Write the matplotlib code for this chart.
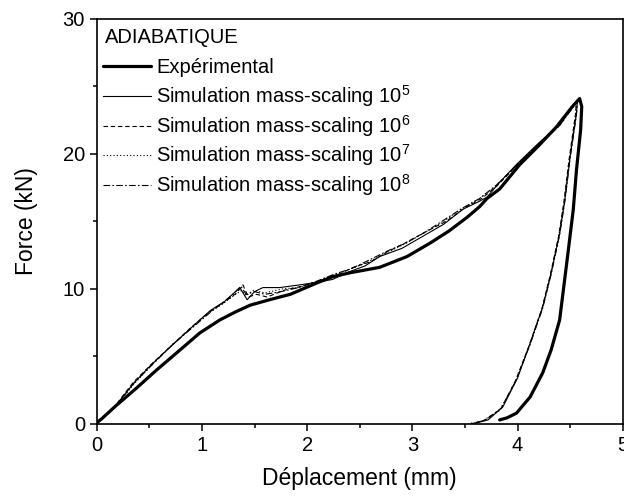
import matplotlib
matplotlib.use("Agg")
import matplotlib.pyplot as plt

plt.rcParams['font.family'] = ['Liberation Sans', 'DejaVu Sans']
plt.rcParams['mathtext.fontset'] = 'custom'
plt.rcParams['mathtext.rm'] = 'Liberation Sans'
plt.rcParams['mathtext.it'] = 'Liberation Sans'

# courbe experimentale (charge + decharge)
x_exp = [0.0, 0.05, 0.17, 0.37, 0.57, 0.78, 0.98, 1.17, 1.32, 1.46, 1.62, 1.74, 1.84, 1.93,
         2.08, 2.24, 2.41, 2.69, 2.95, 3.17, 3.35, 3.52, 3.64, 3.71, 3.83, 4.02, 4.20, 4.37,
         4.52, 4.59, 4.61, 4.60, 4.56, 4.53, 4.48, 4.40, 4.32, 4.24, 4.12, 3.99, 3.90, 3.83]
y_exp = [0.1, 0.4, 1.26, 2.6, 4.0, 5.4, 6.74, 7.7, 8.3, 8.8, 9.15, 9.4, 9.6, 9.9,
         10.4, 10.9, 11.2, 11.6, 12.4, 13.4, 14.3, 15.3, 16.1, 16.7, 17.4, 19.2, 20.6, 22.0,
         23.5, 24.1, 23.5, 21.8, 18.8, 15.9, 12.7, 7.7, 5.5, 3.8, 2.0, 0.8, 0.45, 0.3]

# simulations mass-scaling
x_ms5 = [0.0, 0.17, 0.35, 0.52, 0.70, 0.88, 1.08, 1.22, 1.36, 1.43, 1.50, 1.58, 1.74, 1.93,
         2.10, 2.24, 2.41, 2.55, 2.69, 2.90, 3.10, 3.30, 3.48, 3.64, 3.71, 3.83, 4.00, 4.20,
         4.40, 4.57, 4.56, 4.50, 4.45, 4.40, 4.32, 4.24, 4.12, 4.00, 3.86, 3.72, 3.60]
y_ms5 = [0.0, 1.26, 3.0, 4.4, 5.7, 7.0, 8.4, 9.1, 10.1, 9.2, 9.8, 10.1, 10.1, 10.3,
         10.5, 10.7, 11.3, 11.7, 12.4, 13.0, 13.9, 14.8, 15.9, 16.5, 16.8, 17.9, 19.3, 20.8,
         22.2, 24.0, 23.0, 19.8, 16.6, 14.1, 11.2, 8.7, 6.0, 3.4, 1.26, 0.3, 0.05]

x_ms6 = [0.0, 0.17, 0.35, 0.53, 0.71, 0.89, 1.07, 1.21, 1.33, 1.39, 1.44, 1.52, 1.62, 1.78,
         1.95, 2.12, 2.28, 2.44, 2.60, 2.75, 2.93, 3.12, 3.32, 3.50, 3.66, 3.80, 4.00, 4.20,
         4.40, 4.56, 4.55, 4.49, 4.44, 4.39, 4.31, 4.23, 4.11, 3.98, 3.84, 3.68, 3.55]
y_ms6 = [0.0, 1.3, 3.1, 4.5, 5.8, 7.1, 8.3, 9.0, 9.7, 10.3, 9.4, 9.6, 9.4, 9.9,
         10.2, 10.6, 11.0, 11.6, 12.0, 12.7, 13.4, 14.2, 15.0, 16.0, 16.7, 17.6, 19.2, 20.7,
         22.1, 23.9, 22.9, 19.6, 16.4, 13.9, 11.0, 8.5, 5.8, 3.2, 1.1, 0.25, 0.0]

x_ms7 = [0.0, 0.18, 0.36, 0.54, 0.72, 0.90, 1.06, 1.20, 1.32, 1.38, 1.42, 1.49, 1.60, 1.76,
         1.92, 2.08, 2.25, 2.42, 2.58, 2.74, 2.92, 3.10, 3.28, 3.46, 3.62, 3.78, 3.98, 4.18,
         4.38, 4.56, 4.55, 4.49, 4.44, 4.39, 4.31, 4.23, 4.11, 3.98, 3.83, 3.66, 3.52]
y_ms7 = [0.0, 1.3, 3.0, 4.5, 5.9, 7.1, 8.2, 8.9, 9.6, 9.9, 9.5, 9.9, 9.7, 10.0,
         10.1, 10.5, 11.0, 11.5, 12.0, 12.6, 13.3, 14.1, 14.9, 15.9, 16.6, 17.5, 19.1, 20.6,
         22.0, 23.8, 22.8, 19.5, 16.3, 13.8, 10.9, 8.4, 5.7, 3.1, 1.0, 0.2, 0.0]

x_ms8 = [0.0, 0.17, 0.35, 0.53, 0.71, 0.89, 1.07, 1.20, 1.31, 1.37, 1.42, 1.50, 1.60, 1.75,
         1.92, 2.10, 2.26, 2.42, 2.58, 2.76, 2.94, 3.12, 3.30, 3.48, 3.64, 3.80, 4.00, 4.20,
         4.40, 4.57, 4.56, 4.50, 4.45, 4.40, 4.32, 4.24, 4.12, 3.99, 3.85, 3.70, 3.56]
y_ms8 = [0.0, 1.2, 3.0, 4.4, 5.8, 7.0, 8.2, 9.0, 9.7, 10.2, 9.6, 9.8, 9.6, 9.8,
         10.1, 10.6, 11.1, 11.5, 12.1, 12.8, 13.4, 14.2, 15.1, 16.0, 16.7, 17.7, 19.2, 20.7,
         22.1, 23.9, 22.9, 19.7, 16.5, 14.0, 11.1, 8.6, 5.9, 3.3, 1.2, 0.3, 0.0]

labels = ['Expérimental',
          r'Simulation mass-scaling $10^{5}$',
          r'Simulation mass-scaling $10^{6}$',
          r'Simulation mass-scaling $10^{7}$',
          r'Simulation mass-scaling $10^{8}$']

series = [(x_exp, y_exp), (x_ms5, y_ms5), (x_ms6, y_ms6), (x_ms7, y_ms7), (x_ms8, y_ms8)]
styles = [dict(lw=2.3, ls='-', solid_capstyle='round'),
          dict(lw=0.8, ls='-'),
          dict(lw=0.8, ls=(0, (4, 2.5))),
          dict(lw=0.8, ls=(0, (1, 2))),
          dict(lw=0.8, ls=(0, (6, 2, 1.5, 2)))]

fig = plt.figure(figsize=(6.24, 4.97), dpi=100)
ax = fig.add_axes([0.155, 0.147, 0.843, 0.815])

for (xs, ys), st, lab in zip(series, styles, labels):
    ax.plot(xs, ys, color='black', label=lab, **st)

ax.set_xlim(0, 5)
ax.set_ylim(0, 30)
ax.set_xticks([0, 1, 2, 3, 4, 5])
ax.set_xticks([0.5, 1.5, 2.5, 3.5, 4.5], minor=True)
ax.set_yticks([0, 10, 20, 30])
ax.set_yticks([5, 15, 25], minor=True)
ax.tick_params(which='both', direction='out', top=False, right=False, labelsize=14.5, width=1.1)
ax.tick_params(which='major', length=5)
ax.tick_params(which='minor', length=3)
for sp in ax.spines.values():
    sp.set_linewidth(1.2)

ax.set_xlabel('Déplacement (mm)', fontsize=16.5, labelpad=9)
ax.set_ylabel('Force (kN)', fontsize=16.5, labelpad=18)

# legende faite a la main (interligne regulier comme l'original)
row_h = 0.0735
y0 = 0.9405
ax.text(0.0158, y0, 'ADIABATIQUE', transform=ax.transAxes, fontsize=14.5, va='baseline')
for i, (st, lab) in enumerate(zip(styles, labels)):
    yb = y0 - (i + 1) * row_h
    yl = yb + 0.0165
    ax.plot([0.012, 0.103], [yl, yl], transform=ax.transAxes, color='black', **st)
    ax.text(0.1127, yb, lab, transform=ax.transAxes, fontsize=14.5, va='baseline')

fig.savefig('out.png', dpi=100)
